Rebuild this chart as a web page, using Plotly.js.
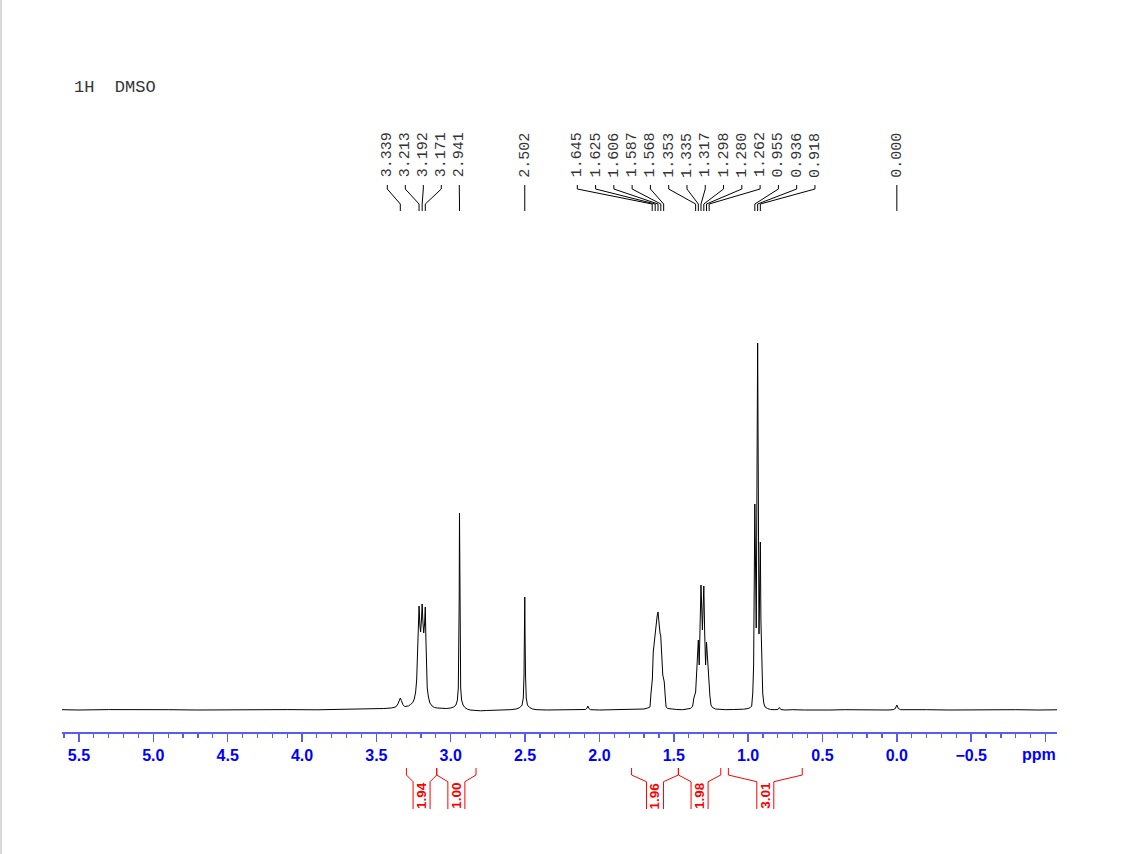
<!DOCTYPE html>
<html>
<head>
<meta charset="utf-8">
<script src="https://cdn.plot.ly/plotly-3.0.1.min.js"></script>
<style>html,body{margin:0;padding:0;background:#fff;}#chart{width:1123px;height:854px;}</style>
</head>
<body>
<div id="chart"></div>
<script>
// ---------- DATA ----------
// spectrum trace: chemical shift (ppm) and intensity (arbitrary units)
const specPPM = [5.614,5.5,5.3,5.1,4.9,4.7,4.5,4.3,4.1,3.9,3.7,3.6,3.5,3.45,3.4,3.37,3.355,3.347,3.339,3.332,3.322,3.31,
  3.298,3.285,3.27,3.255,3.245,3.236,3.229,3.223,3.218,3.213,3.2075,3.2025,3.197,3.192,3.187,3.1815,3.176,3.171,3.167,3.163,3.158,3.15,3.14,3.125,3.11,3.09,3.06,3.03,
  3.0,2.98,2.965,2.955,2.949,2.945,2.943,2.941,2.939,2.937,2.933,2.927,2.917,2.905,2.89,2.87,2.84,2.8,2.76,2.72,2.68,2.64,2.6,
  2.56,2.535,2.52,2.512,2.507,2.504,2.502,2.5,2.497,2.492,2.484,2.47,2.45,2.42,2.35,2.28,2.2,2.13,2.095,2.085,2.078,2.071,2.06,2.0,1.92,1.85,1.78,1.72,
  1.70,1.675,1.66,1.653,1.647,1.644,1.638,1.632,1.628,1.62,1.612,1.606,1.6,1.592,1.588,1.584,1.574,1.568,1.564,1.559,1.552,1.54,1.52,1.48,1.44,1.41,
  1.39,1.38,1.373,1.365,1.358,1.353,1.347,1.341,1.335,1.329,1.323,1.317,1.3075,1.298,1.292,1.286,1.28,1.274,1.268,1.262,1.257,1.25,1.24,1.22,1.19,1.15,1.1,1.06,1.03,
  1.0,0.985,0.976,0.969,0.963,0.959,0.955,0.9455,0.936,0.927,0.918,0.914,0.908,0.902,0.895,0.886,0.87,0.85,0.82,0.8,0.79,0.78,0.75,0.7,0.62,0.55,0.45,0.35,0.25,0.15,0.06,
  0.025,0.01,0.0,-0.01,-0.025,-0.1,-0.2,-0.35,-0.5,-0.65,-0.8,-0.95,-1.077];
const specInt = [0.3,0,0.4,0,0.3,0,0.3,0,0.4,0.2,0.6,0.8,1.2,1.5,2,3,6,10,12,9.5,5.5,3.5,
  3.5,4,5.5,7.5,11,18,30,52,80,104,85,78,90,106,88,77,86,103,72,40,22,13,7,4,2.5,2,1.5,1.5,
  2,3,5,10,22,55,110,197,110,55,22,10,5,2.5,1,0,-0.5,-0.8,-0.5,-0.3,0,-0.3,0.3,
  1,2.5,5,12,35,75,113,75,35,12,5,2.5,1,0.3,0,0.3,0,0.3,0.5,1.5,4,1.5,0.3,0,0.3,0,0.5,0.8,
  1,2,3,17,27,31,58,67,70,82,94,98,86,76,75,63,35,31,28,17,3,1.5,1,0.5,0.3,0.8,
  1.5,2.5,4,12,17,18,35,55,70,45,78,125,80,124,76,45,68,52,30,18,14,5,2.5,1,0.5,0.3,0.5,0.3,0.8,
  1.5,2.5,4,17,45,110,206,82,367,76,168,90,40,17,7,3,1.5,0.5,0.3,0.5,2.5,0.5,0,0.3,0,0.3,0,0.3,0,0.3,0,
  0.3,1.5,5,1.5,0.3,0,0.3,0,0.3,0,0.3,0,0.2];

// peak picking
const peakPPM = [3.339,3.213,3.192,3.171,2.941,2.502,1.645,1.625,1.606,1.587,1.568,1.353,1.335,1.317,1.298,1.280,1.262,0.955,0.936,0.918,0.000];
const peakLabels = ["3.339","3.213","3.192","3.171","2.941","2.502","1.645","1.625","1.606","1.587","1.568","1.353","1.335","1.317","1.298","1.280","1.262","0.955","0.936","0.918","0.000"];

// integrals
const intFrom = [3.298,3.094,1.784,1.469,1.133];
const intTo   = [3.094,2.830,1.469,1.184,0.636];
const intValues = ["1.94","1.00","1.96","1.98","3.01"];

// axis ticks
const tickVals = [5.5,5.0,4.5,4.0,3.5,3.0,2.5,2.0,1.5,1.0,0.5,0.0,-0.5,-1.0];
const tickText = ["5.5","5.0","4.5","4.0","3.5","3.0","2.5","2.0","1.5","1.0","0.5","0.0","\u22120.5",""];
const axisUnit = "ppm";

const titleText = "1H  DMSO";

// ---------- LAYOUT GEOMETRY ----------
const W = 1123, H = 854;
const mL = 62, mR = 66, mT = 40, mB = 122;
const plotW = W - mL - mR, plotH = H - mT - mB;
const xMax = 5.614, xMin = -1.077;
const baseY = 710;                // pixel row of the spectrum baseline
const axisY = H - mB;             // pixel row of the x axis
const yLo = baseY - axisY, yHi = yLo + plotH;
function px2ppm(X){ return xMax - (X - mL) * (xMax - xMin) / plotW; }
function ppm2px(p){ return mL + (xMax - p) * plotW / (xMax - xMin); }
function Yv(Y){ return baseY - Y; }              // pixel row -> y data
function Yp(Y){ return (axisY - Y) / plotH; }    // pixel row -> paper y

// label column positions (pixels)
function labelX(i){
  if (i <= 4) return 387.3 + i * 18.0;
  if (i >= 6 && i <= 19) return 577.3 + (i - 6) * 18.28;
  return ppm2px(peakPPM[i]);
}

const shapes = [];
const annotations = [];
const labelFont = {family:"Liberation Mono, Courier New, monospace", size:15, color:"#333333"};

peakPPM.forEach((p, i) => {
  const lx = px2ppm(labelX(i));
  shapes.push({type:"path", xref:"x", yref:"y",
    path:`M ${lx},${Yv(185)} L ${lx},${Yv(189)} L ${p},${Yv(204)} L ${p},${Yv(211)}`,
    line:{color:"#000000", width:1}});
  annotations.push({x:lx, xref:"x", y:Yv(155), yref:"y", text:peakLabels[i], textangle:-90,
    showarrow:false, xanchor:"center", yanchor:"middle", font:labelFont});
});

const red = "#ff0000";
intFrom.forEach((a, i) => {
  const b = intTo[i];
  const cPx = (ppm2px(a) + ppm2px(b)) / 2;
  const xa = px2ppm(cPx - 8.5), xb = px2ppm(cPx + 8.5);
  shapes.push({type:"path", xref:"x", yref:"paper",
    path:`M ${a},${Yp(768)} L ${a},${Yp(775)} L ${xa},${Yp(781.7)} L ${xa},${Yp(809)}`,
    line:{color:red, width:1}});
  shapes.push({type:"path", xref:"x", yref:"paper",
    path:`M ${b},${Yp(768)} L ${b},${Yp(775)} L ${xb},${Yp(781.7)} L ${xb},${Yp(809)}`,
    line:{color:red, width:1}});
  annotations.push({x:px2ppm(cPx), xref:"x", y:Yp(795.5), yref:"paper", text:intValues[i], textangle:-90,
    showarrow:false, xanchor:"center", yanchor:"middle",
    font:{family:"Liberation Sans, Arial, sans-serif", size:13.5, color:red, weight:"bold"}});
});

// page border at the left edge
shapes.push({type:"line", xref:"paper", yref:"paper", x0:(1 - mL)/plotW, x1:(1 - mL)/plotW,
  y0:Yp(0), y1:Yp(H), line:{color:"#d9d9d9", width:2}});

annotations.push({x:(72 - mL)/plotW, xref:"paper", y:Yp(88), yref:"paper", text:titleText,
  showarrow:false, xanchor:"left", yanchor:"middle",
  font:{family:"Liberation Mono, Courier New, monospace", size:17, color:"#333333"}});

const blue = "#0000ff";
const tickFont = {family:"Liberation Sans, Arial, sans-serif", size:16, color:blue, weight:"bold"};

// unit label in place of the last tick label (right-aligned at the axis end)
annotations.push({x:(1058 - mL)/plotW, xref:"paper", y:Yp(755), yref:"paper", text:axisUnit,
  showarrow:false, xanchor:"right", yanchor:"middle", font:tickFont});

const layout = {
  width:W, height:H,
  margin:{l:mL, r:mR, t:mT, b:mB, pad:0},
  paper_bgcolor:"#ffffff", plot_bgcolor:"#ffffff",
  showlegend:false,
  xaxis:{
    range:[xMax, xMin], autorange:false,
    showgrid:false, zeroline:false,
    showline:true, linecolor:"#5a5af5", linewidth:1.5,
    tickmode:"array", tickvals:tickVals, ticktext:tickText,
    ticks:"outside", ticklen:8, tickwidth:1.5, tickcolor:"#5a5af5",
    tickfont:tickFont,
    minor:{tickmode:"linear", tick0:0, dtick:0.1, ticks:"outside", ticklen:4, tickwidth:1.2, tickcolor:"#5a5af5", showgrid:false},
    fixedrange:true
  },
  yaxis:{range:[yLo, yHi], autorange:false, visible:false, fixedrange:true},
  shapes:shapes,
  annotations:annotations
};

const trace = {x:specPPM, y:specInt, type:"scatter", mode:"lines",
  line:{color:"#000000", width:1}, hoverinfo:"skip"};

Plotly.newPlot("chart", [trace], layout, {displayModeBar:false, staticPlot:true});
</script>
</body>
</html>
